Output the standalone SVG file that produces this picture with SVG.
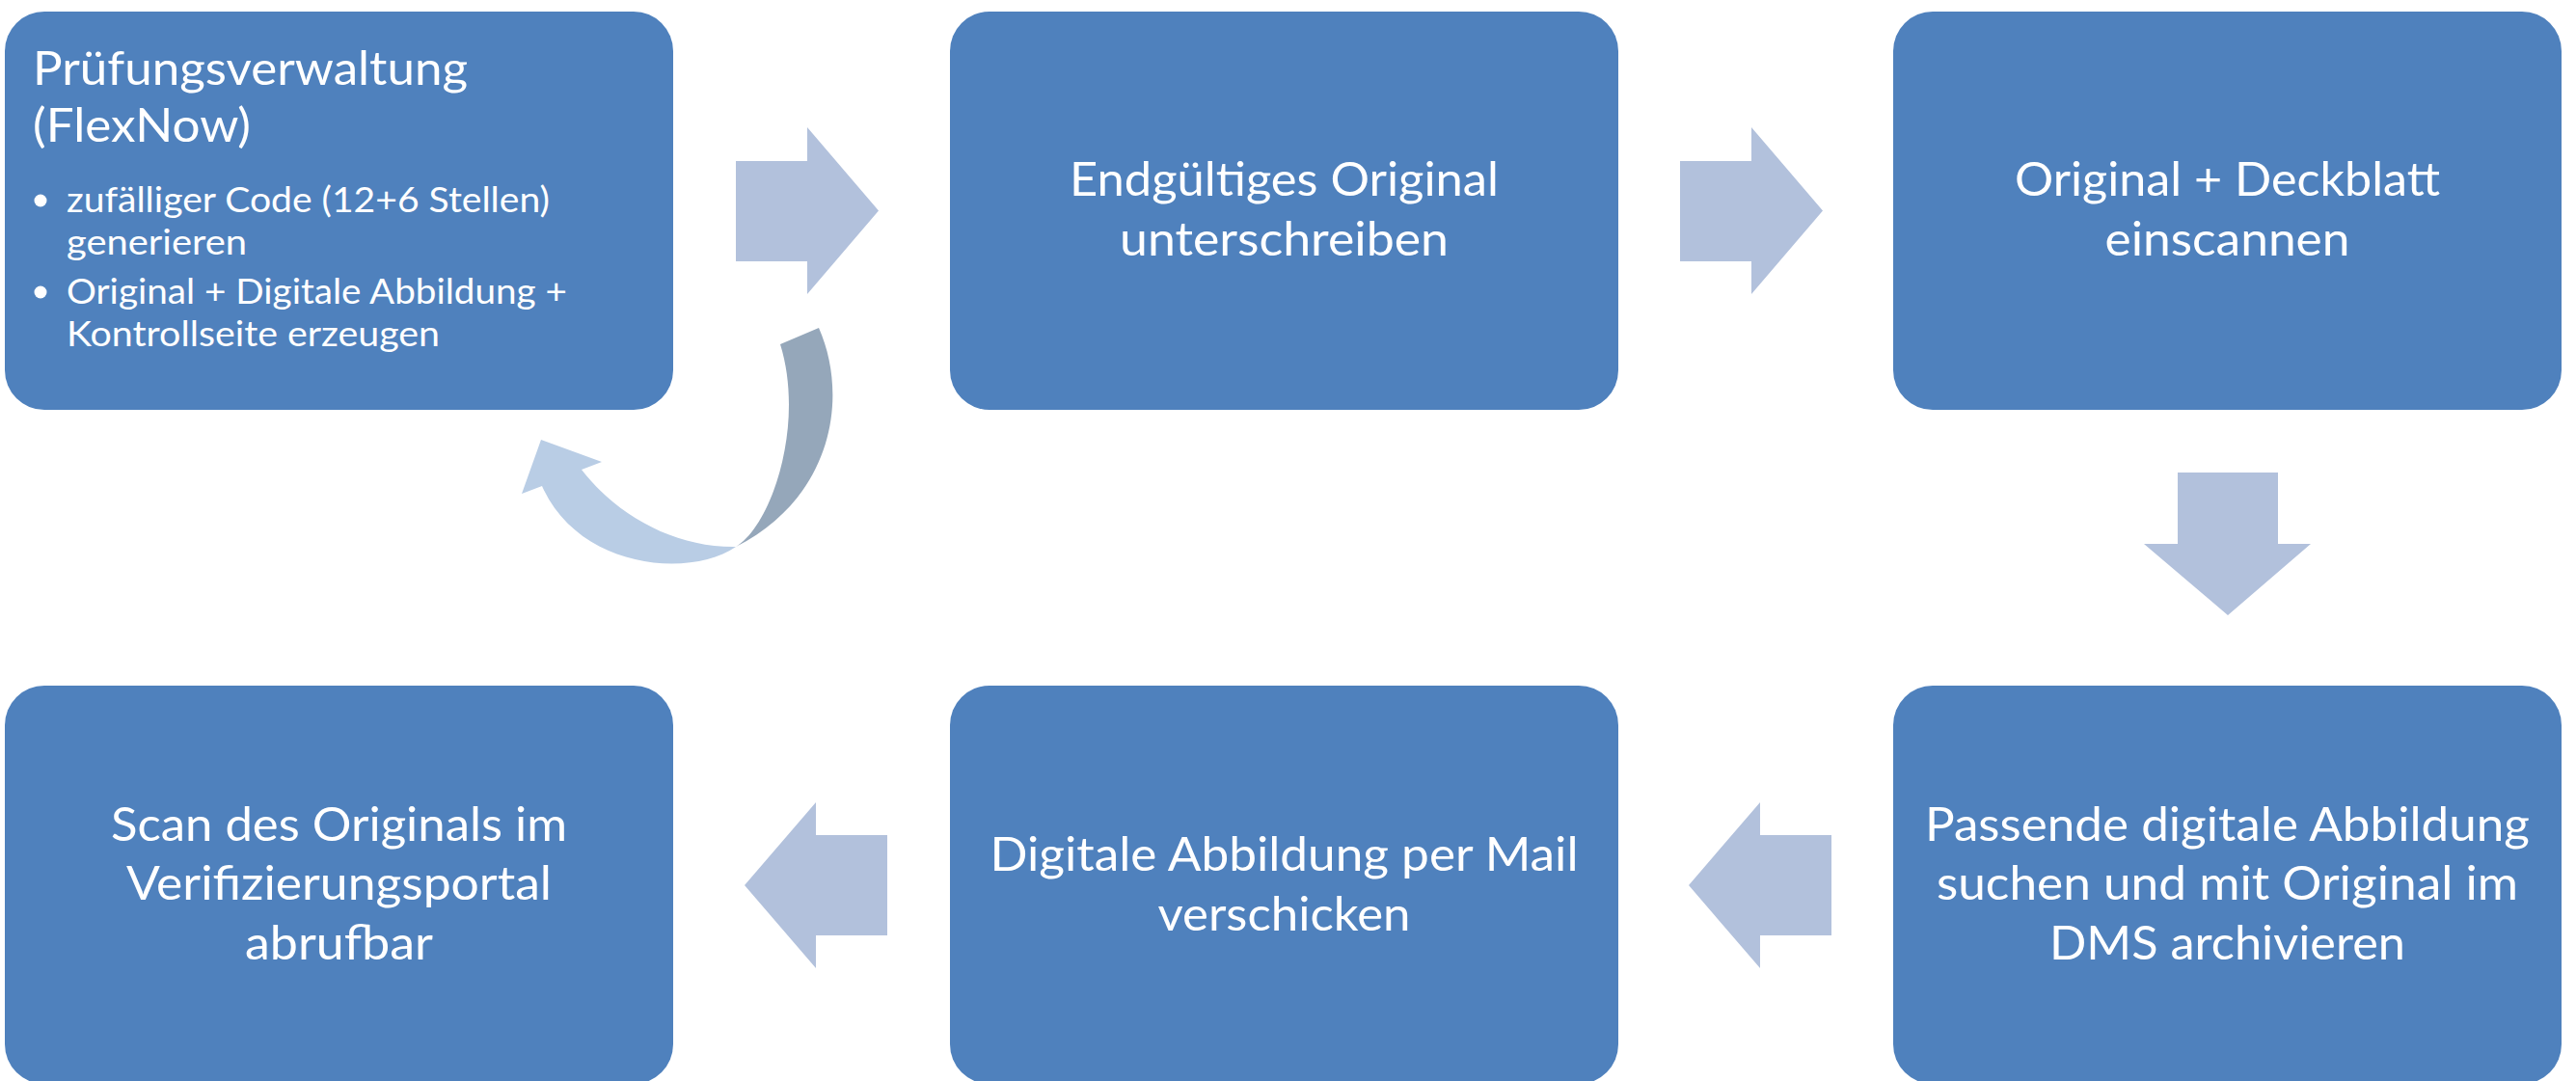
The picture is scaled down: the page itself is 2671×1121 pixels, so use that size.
<svg xmlns="http://www.w3.org/2000/svg" width="2671" height="1121" viewBox="0 0 2671 1121">
<style>
.box{fill:#4F81BD}
.t{font-family:Lato,"Open Sans","Liberation Sans",sans-serif;font-size:48px;fill:#FFFFFF}
.c{text-anchor:middle}
.b{font-family:Lato,"Open Sans","Liberation Sans",sans-serif;font-size:36px;fill:#FFFFFF}
.arr{fill:#B2C1DC}
.cl{fill:#B9CDE5}
.cd{fill:#95A7BA}
</style>
<rect width="2671" height="1121" fill="#FFFFFF"/>
<g id="connectors">
<polygon class="arr" points="763,167 837,167 837,132 911,218.5 837,305 837,271 763,271"/>
<polygon class="arr" points="1742,167 1816,167 1816,132 1890,218.5 1816,305 1816,271 1742,271"/>
<polygon class="arr" points="2258,490 2362,490 2362,564 2396,564 2310,638 2223,564 2258,564"/>
<polygon class="arr" points="920,866 846,866 846,832 772,918 846,1004 846,970 920,970"/>
<polygon class="arr" points="1899,866 1825,866 1825,832 1751,918 1825,1004 1825,970 1899,970"/>
<g id="loop-arrow">
<path class="cd" d="M809,357 L849,340 C880,410 865,515 763,567 C800,545 835,440 809,357 Z"/>
<path class="cl" d="M561,456 L624,479 L603,487 C640,535 700,568 763,567 C715,600 600,590 562,504 L541,512 Z"/>
</g>
</g>
<g id="node1">
<rect class="box" x="5" y="12" width="693" height="413" rx="41"/>
<text class="t" x="34" y="88" textLength="451" lengthAdjust="spacingAndGlyphs">Prüfungsverwaltung</text>
<text class="t" x="34" y="147" textLength="226" lengthAdjust="spacingAndGlyphs">(FlexNow)</text>
<circle cx="42" cy="208" r="6.5" fill="#FFFFFF"/>
<circle cx="42" cy="303" r="6.5" fill="#FFFFFF"/>
<text class="b" x="69" y="220" textLength="501" lengthAdjust="spacingAndGlyphs">zufälliger Code (12+6 Stellen)</text>
<text class="b" x="69" y="264" textLength="187" lengthAdjust="spacingAndGlyphs">generieren</text>
<text class="b" x="69" y="315" textLength="519" lengthAdjust="spacingAndGlyphs">Original + Digitale Abbildung +</text>
<text class="b" x="69" y="359" textLength="387" lengthAdjust="spacingAndGlyphs">Kontrollseite erzeugen</text>
</g>
<g id="node2">
<rect class="box" x="985" y="12" width="693" height="413" rx="41"/>
<text class="t c" x="1331.5" y="203" textLength="445" lengthAdjust="spacingAndGlyphs">Endgültiges Original</text>
<text class="t c" x="1331.5" y="265" textLength="341" lengthAdjust="spacingAndGlyphs">unterschreiben</text>
</g>
<g id="node3">
<rect class="box" x="1963" y="12" width="693" height="413" rx="41"/>
<text class="t c" x="2309.5" y="203" textLength="441" lengthAdjust="spacingAndGlyphs">Original + Deckblatt</text>
<text class="t c" x="2309.5" y="265" textLength="254" lengthAdjust="spacingAndGlyphs">einscannen</text>
</g>
<g id="node4">
<rect class="box" x="1963" y="711" width="693" height="413" rx="41"/>
<text class="t c" x="2309.5" y="872" textLength="627" lengthAdjust="spacingAndGlyphs">Passende digitale Abbildung</text>
<text class="t c" x="2309.5" y="933" textLength="603" lengthAdjust="spacingAndGlyphs">suchen und mit Original im</text>
<text class="t c" x="2309.5" y="995" textLength="369" lengthAdjust="spacingAndGlyphs">DMS archivieren</text>
</g>
<g id="node5">
<rect class="box" x="985" y="711" width="693" height="413" rx="41"/>
<text class="t c" x="1331.5" y="903" textLength="610" lengthAdjust="spacingAndGlyphs">Digitale Abbildung per Mail</text>
<text class="t c" x="1331.5" y="965" textLength="262" lengthAdjust="spacingAndGlyphs">verschicken</text>
</g>
<g id="node6">
<rect class="box" x="5" y="711" width="693" height="413" rx="41"/>
<text class="t c" x="351.5" y="872" textLength="473" lengthAdjust="spacingAndGlyphs">Scan des Originals im</text>
<text class="t c" x="351.5" y="933" textLength="441" lengthAdjust="spacingAndGlyphs">Verifizierungsportal</text>
<text class="t c" x="351.5" y="995" textLength="195" lengthAdjust="spacingAndGlyphs">abrufbar</text>
</g>
</svg>
